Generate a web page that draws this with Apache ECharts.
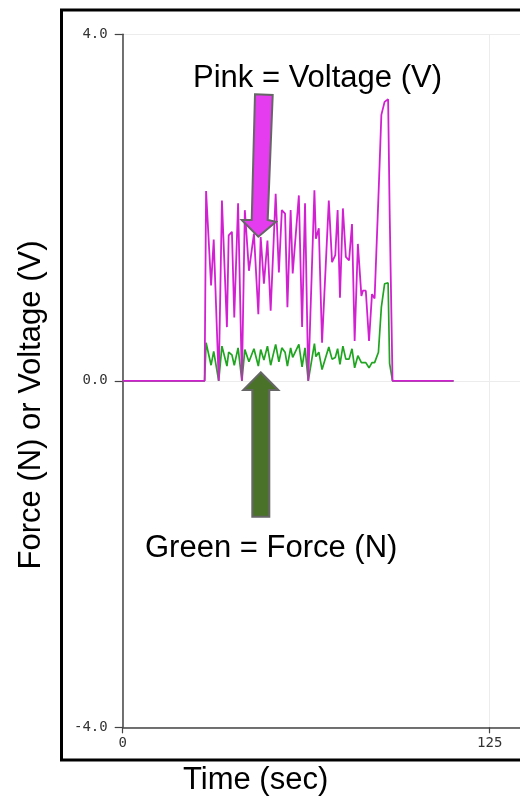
<!DOCTYPE html>
<html>
<head>
<meta charset="utf-8">
<script src="https://cdn.jsdelivr.net/npm/echarts@6/dist/echarts.min.js"></script>
<style>
html,body{margin:0;padding:0;background:#fff;}
#chart{width:520px;height:800px;}
</style>
</head>
<body>
<div id="chart"></div>
<script>
// Time stamps (sec)
var timeSec = [0, 27.9, 28.4, 30.1, 31.0, 32.7, 33.8, 35.5, 36.1, 37.2, 38.0, 39.3, 40.6, 41.6, 43.0, 44.7, 46.2, 47.0, 48.1, 49.3, 50.4, 52.1, 53.2, 54.2, 55.3, 56.1, 57.2, 57.9, 60.0, 61.1, 62.1, 63.2, 65.3, 65.8, 66.8, 67.9, 70.2, 71.3, 72.4, 73.2, 74.0, 75.0, 76.0, 77.1, 78.1, 79.0, 80.1, 81.3, 81.8, 82.8, 83.9, 84.9, 85.8, 87.1, 88.1, 89.2, 90.4, 90.9, 91.9, 112.7];
// Voltage (V), pink
var voltage = [0, 0, 2.19, 1.10, 1.63, 0, 2.08, 0.62, 1.68, 1.72, 0.73, 2.05, 0, 1.97, 1.27, 1.70, 0.77, 1.66, 1.12, 1.62, 0.81, 2.16, 1.25, 1.97, 1.93, 0.85, 1.97, 1.24, 2.14, 0.62, 2.05, 0, 2.20, 1.64, 1.76, 0.44, 2.08, 1.37, 1.45, 1.97, 0.96, 1.99, 1.43, 1.39, 1.81, 0.46, 1.58, 0.98, 1.04, 1.04, 0.46, 1.00, 0.95, 2.12, 3.07, 3.22, 3.25, 2.00, 0, 0];
// Force (N), green
var force = [0, 0, 0.44, 0.18, 0.34, 0, 0.40, 0.17, 0.33, 0.30, 0.18, 0.38, 0, 0.36, 0.22, 0.37, 0.17, 0.36, 0.24, 0.40, 0.18, 0.42, 0.22, 0.38, 0.33, 0.17, 0.38, 0.27, 0.42, 0.16, 0.38, 0, 0.43, 0.28, 0.33, 0.13, 0.39, 0.25, 0.27, 0.37, 0.19, 0.40, 0.25, 0.25, 0.37, 0.15, 0.29, 0.21, 0.21, 0.21, 0.15, 0.21, 0.21, 0.33, 0.85, 1.12, 1.13, 0.20, 0, 0];
// Axis ticks
var xTicks = [0, 125, 250];
var yTicks = [-4, 0, 4];

function pairs(ts, vs) { return ts.map(function (t, i) { return [t, vs[i]]; }); }

var chart = echarts.init(document.getElementById('chart'), null, {renderer: 'canvas'});
var titleFont = '"Liberation Sans", Arial, sans-serif';
var monoFont = '"DejaVu Sans Mono", monospace';

chart.setOption({
  animation: false,
  backgroundColor: '#ffffff',
  grid: {left: 122.7, top: 34.3, width: 734, height: 693, containLabel: false, outerBoundsMode: 'none'},
  xAxis: {
    type: 'value', min: xTicks[0], max: xTicks[2], interval: 125,
    axisLine: {show: true, onZero: false, lineStyle: {color: '#444', width: 1.5}},
    axisTick: {show: true, length: 6, lineStyle: {color: '#444', width: 1.2}},
    axisLabel: {margin: 9, color: '#333', fontFamily: monoFont, fontSize: 14},
    splitLine: {show: true, lineStyle: {color: '#ececec', width: 1}}
  },
  yAxis: {
    type: 'value', min: yTicks[0], max: yTicks[2], interval: 4,
    axisLine: {show: true, onZero: false, lineStyle: {color: '#444', width: 1.5}},
    axisTick: {show: true, length: 8, lineStyle: {color: '#444', width: 1.2}},
    axisLabel: {margin: 15, color: '#333', fontFamily: monoFont, fontSize: 14,
      formatter: function (v) { return v.toFixed(1); }},
    splitLine: {show: true, lineStyle: {color: '#ececec', width: 1}}
  },
  series: [
    {name: 'Force (N)', type: 'line', data: pairs(timeSec, force), showSymbol: false,
      lineStyle: {color: '#1fa51f', width: 1.7}, itemStyle: {color: '#1fa51f'}, z: 2},
    {name: 'Voltage (V)', type: 'line', data: pairs(timeSec, voltage), showSymbol: false,
      lineStyle: {color: '#d21fd2', width: 1.8}, itemStyle: {color: '#d21fd2'}, z: 3}
  ],
  graphic: [
    {type: 'rect', z: 100, silent: true,
      shape: {x: 61.5, y: 10, width: 700, height: 750},
      style: {fill: 'none', stroke: '#000', lineWidth: 3}},
    {type: 'polygon', z: 101,
      shape: {points: [[255, 94.3], [272.7, 95], [267.7, 220], [276, 221.7], [258.3, 236.7], [241.7, 220], [251.7, 220]]},
      style: {fill: '#e63cf0', stroke: '#666', lineWidth: 2}},
    {type: 'polygon', z: 101,
      shape: {points: [[260.7, 372.3], [278.3, 390], [269.3, 390], [269.3, 516.7], [252.3, 516.7], [252.3, 390], [243.3, 390]]},
      style: {fill: '#4a7229', stroke: '#666', lineWidth: 2}},
    {type: 'text', z: 102, left: 193, top: 63,
      style: {text: 'Pink = Voltage (V)', font: '31px ' + titleFont, fill: '#000'}},
    {type: 'text', z: 102, left: 145, top: 533,
      style: {text: 'Green = Force (N)', font: '31px ' + titleFont, fill: '#000'}},
    {type: 'text', z: 102, left: 183, top: 765,
      style: {text: 'Time (sec)', font: '31px ' + titleFont, fill: '#000'}},
    {type: 'text', z: 102, x: 31, y: 405, rotation: Math.PI / 2,
      style: {text: 'Force (N) or Voltage (V)', font: '31px ' + titleFont, fill: '#000',
        align: 'center', verticalAlign: 'middle'}}
  ]
});
</script>
</body>
</html>
